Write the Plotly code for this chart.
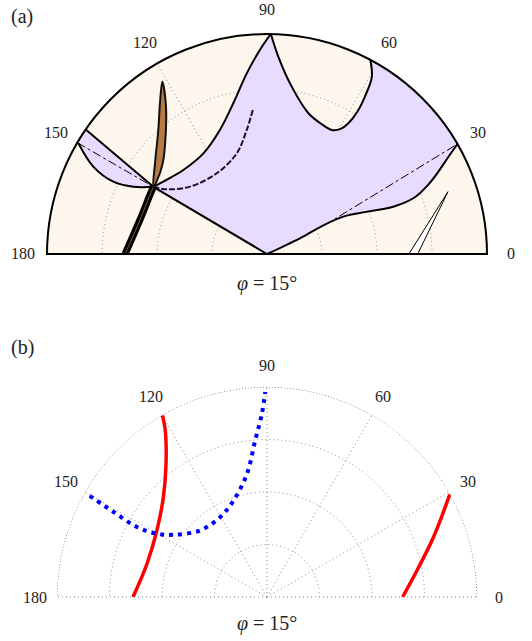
import numpy as np
import plotly.graph_objects as go

# ---------------- panel (a) data (theta in deg, r normalised) ----------------
# lavender main region, split in boundary pieces
a_edge_theta = [0, 149.4]
a_edge_r = [0, 0.60]
a_upper_theta = [149.4, 145.1, 134.9, 122.3, 110.8, 102.6, 96.4, 92, 89]
a_upper_r = [0.60, 0.575, 0.539, 0.541, 0.603, 0.702, 0.826, 0.928, 1.0]
a_loop_theta = [89, 86.7, 81.6, 73.6, 67, 62.4, 59.5, 58.1, 57.6, 58.2, 59.4, 62]
a_loop_r = [1.0, 0.898, 0.769, 0.667, 0.64, 0.636, 0.66, 0.70, 0.77, 0.85, 0.936, 1.0]
a_arc_theta = [58, 54, 50, 46, 42, 38, 34, 30]
a_arc_r = [1, 1, 1, 1, 1, 1, 1, 1]
a_right_theta = [30, 28, 25.5, 23, 21, 20.5, 23, 26, 27, 25.5, 25, 0]
a_right_r = [1.0, 0.93, 0.86, 0.79, 0.72, 0.62, 0.49, 0.39, 0.28, 0.17, 0.08, 0]

# thin lavender sliver near 150 deg
a_sliv_top_theta = [149.4, 145.5]
a_sliv_top_r = [0.60, 1.0]
a_sliv_arc_theta = [147.5, 149.6]
a_sliv_arc_r = [1.0, 1.0]
a_sliv_low_theta = [149.6, 153.3, 154.8, 153.3, 149.4]
a_sliv_low_r = [0.994, 0.884, 0.772, 0.68, 0.60]

# dashed lines
a_dash1_theta = [149.6, 149.4]
a_dash1_r = [1.0, 0.60]
a_dash2_theta = [26.5, 30]
a_dash2_r = [0.29, 1.0]
a_dash3_theta = [149.4, 147.2, 138.8, 121.9, 106.7, 99.3, 95.4]
a_dash3_r = [0.60, 0.543, 0.465, 0.432, 0.478, 0.571, 0.665]

# left spike (band + lobe) and right spike
a_band_theta = [180, 165, 153.2, 149.4]
a_band_r = [0.645, 0.598, 0.596, 0.60]
a_lobe_theta = [149.4, 141, 131.2, 125.4, 121.3, 123.9, 129.2, 139, 147, 149.4]
a_lobe_r = [0.60, 0.655, 0.75, 0.84, 0.916, 0.825, 0.727, 0.628, 0.60, 0.60]
a_spike_theta = [0, 19.0, 0]
a_spike_r = [0.645, 0.87, 0.685]

# ---------------- panel (b) data ----------------
b_red1_theta = [180, 164.5, 148.8, 136.1, 127.1, 121.4, 119.9]
b_red1_r = [0.638, 0.593, 0.613, 0.685, 0.797, 0.93, 0.998]
b_red2_theta = [0, 10.1, 19.8, 29.3]
b_red2_r = [0.646, 0.726, 0.843, 0.998]
b_blue_theta = [150.3, 151, 151.7, 150.1, 146.3, 135, 120.3, 109, 99.2, 94.3, 91.6, 90.5]
b_blue_r = [0.972, 0.835, 0.703, 0.604, 0.534, 0.449, 0.441, 0.487, 0.595, 0.748, 0.873, 0.976]

tick_vals = [0, 30, 60, 90, 120, 150, 180]
tick_text = ["0", "30", "60", "90", "120", "150", "180"]
SERIF = "Liberation Serif"
LAV = "#E6DCFF"
CREAM = "#FDF6EC"
GRID = "#8a8a8a"

fig = go.Figure()


def add(sp, theta, r, **kw):
    fig.add_trace(go.Scatterpolar(theta=theta, r=r, subplot=sp, showlegend=False,
                                  hoverinfo="skip", **kw))


# lavender fills
main_theta = a_edge_theta + a_upper_theta[1:] + a_loop_theta[1:] + a_arc_theta + a_right_theta[1:]
main_r = a_edge_r + a_upper_r[1:] + a_loop_r[1:] + a_arc_r + a_right_r[1:]
add("polar", main_theta, main_r, mode="lines", fill="toself", fillcolor=LAV, line=dict(width=0))
sliv_theta = a_sliv_top_theta + a_sliv_arc_theta + a_sliv_low_theta
sliv_r = a_sliv_top_r + a_sliv_arc_r + a_sliv_low_r
add("polar", sliv_theta, sliv_r, mode="lines", fill="toself", fillcolor=LAV, line=dict(width=0))

# outlines
for th, rr, shape in [
    (a_edge_theta, a_edge_r, "linear"),
    (a_upper_theta, a_upper_r, "spline"),
    (a_loop_theta, a_loop_r, "spline"),
    (a_right_theta, a_right_r, "spline"),
    (a_sliv_top_theta, a_sliv_top_r, "linear"),
    (a_sliv_low_theta, a_sliv_low_r, "spline"),
]:
    add("polar", th, rr, mode="lines", line=dict(color="black", width=2, shape=shape))

add("polar", a_dash1_theta, a_dash1_r, mode="lines", line=dict(color="black", width=1, dash="dashdot"))
add("polar", a_dash2_theta, a_dash2_r, mode="lines", line=dict(color="black", width=1, dash="dashdot"))
add("polar", a_dash3_theta, a_dash3_r, mode="lines",
    line=dict(color="#1a1030", width=2, dash="6px,2px", shape="spline"))

# spikes
add("polar", a_band_theta, a_band_r, mode="lines", line=dict(color="black", width=7, shape="spline"))
add("polar", a_band_theta, a_band_r, mode="lines", line=dict(color="#7a5530", width=1, shape="spline"))
add("polar", a_lobe_theta, a_lobe_r, mode="lines", fill="toself", fillcolor="#B87A45",
    line=dict(color="#111", width=2, shape="spline"))
add("polar", a_spike_theta, a_spike_r, mode="lines", fill="toself", fillcolor="white",
    line=dict(color="black", width=1))

# panel (b)
add("polar2", np.linspace(0, 180, 121), np.ones(121), mode="lines",
    line=dict(color="#333", width=1, dash="1px,2px"))
add("polar2", b_red1_theta, b_red1_r, mode="lines", line=dict(color="red", width=3.5, shape="spline"))
add("polar2", b_red2_theta, b_red2_r, mode="lines", line=dict(color="red", width=3.5, shape="spline"))
add("polar2", b_blue_theta, b_blue_r, mode="lines",
    line=dict(color="blue", width=4, dash="4px,5px", shape="spline"))


def polar_layout(domain_x, domain_y, bg, line_on):
    return dict(
        domain=dict(x=domain_x, y=domain_y),
        sector=[0, 180],
        bgcolor=bg,
        angularaxis=dict(
            rotation=0, direction="counterclockwise", tickmode="array",
            tickvals=tick_vals, showticklabels=False, ticks="",
            showgrid=True, gridcolor=GRID, griddash="1px,3px", gridwidth=1,
            showline=line_on, linecolor="black", linewidth=2,
        ),
        radialaxis=dict(
            range=[0, 1], tickvals=[0.25, 0.5, 0.75], showticklabels=False, ticks="",
            showline=False, showgrid=True, gridcolor=GRID, griddash="1px,3px", gridwidth=1,
        ),
    )


W, H = 532, 641


def px(x):
    return x / W


def py(y):
    return (H - y) / H


# (centre x, centre y, rim radius) of each half disc, in pixels
panels = {"polar": (267, 254, 220), "polar2": (267, 597, 210)}
fig.update_layout(
    width=W, height=H,
    margin=dict(l=0, r=0, t=0, b=0),
    paper_bgcolor="white",
    polar=polar_layout([px(47), px(487)], [py(254), py(34)], CREAM, True),
    polar2=polar_layout([px(57), px(477)], [py(597), py(387)], "rgba(0,0,0,0)", False),
    font=dict(family=SERIF, color="#222"),
)

# angle labels centred a fixed distance outside the rim
for (cx, cy, R), gap in zip(panels.values(), [24, 22]):
    for v, t in zip(tick_vals, tick_text):
        a = np.radians(v)
        fig.add_annotation(text=t, x=px(cx + (R + gap) * np.cos(a)), y=py(cy - (R + gap) * np.sin(a)),
                           xref="paper", yref="paper", xanchor="center", yanchor="middle",
                           showarrow=False, font=dict(size=16, family=SERIF, color="#222"))

for txt, y in [("(a)", 17), ("(b)", 348)]:
    fig.add_annotation(text=txt, x=px(22), y=py(y), xref="paper", yref="paper",
                       xanchor="center", yanchor="middle",
                       showarrow=False, font=dict(size=20, family=SERIF))
for y in [283, 623]:
    fig.add_annotation(text="<i>φ</i> = 15°", x=px(267), y=py(y), xref="paper", yref="paper",
                       xanchor="center", yanchor="middle",
                       showarrow=False, font=dict(size=20, family=SERIF))

# drop the default 8px body margin so the figure sits at the window's corner
fig.write_html("out.html", config={"displayModeBar": False},
               post_script="document.body.style.margin='0';")
